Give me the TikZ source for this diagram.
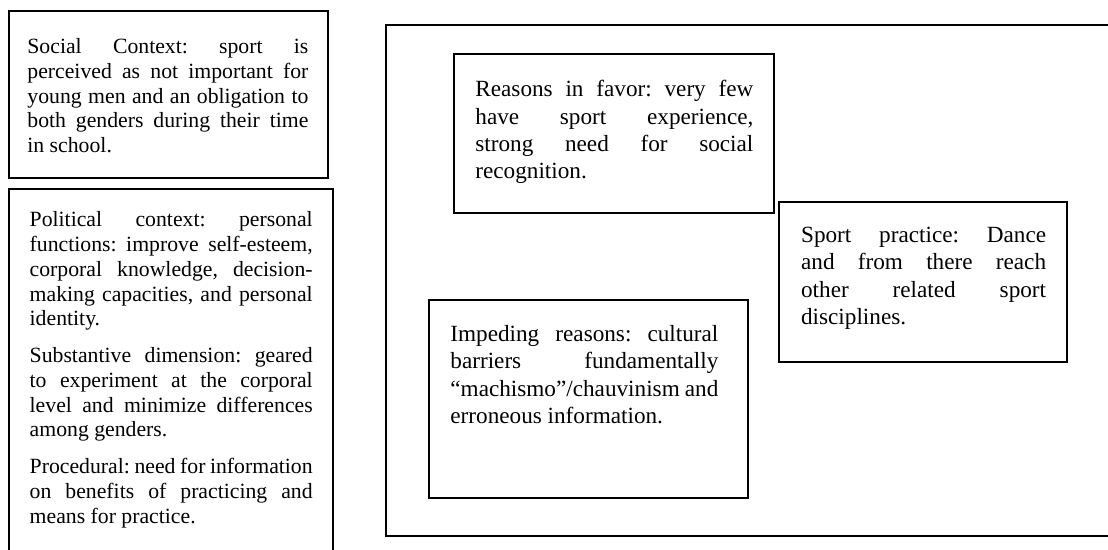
\documentclass[tikz,border=0pt]{standalone}
\usepackage{fontspec}
\setmainfont{Liberation Serif}
\frenchspacing
\newcommand\jl[1]{\makebox[\linewidth][s]{#1}\\}
\tikzset{
  frame/.style={draw=black, line width=0.95pt},
  txt/.style={anchor=base west, inner sep=0pt, align=justify,
    font=\fontsize{10.87}{12.4}\selectfont\frenchspacing},
  bigtxt/.style={txt, font=\fontsize{11.6}{13.6}\selectfont\frenchspacing},
}
\begin{document}
\begin{tikzpicture}[x=0.5pt,y=-0.5pt]
\useasboundingbox (0,0) rectangle (1108,550);
\clip (0,0) rectangle (1108,550);

% outer frame of the right-hand group
\draw[frame] (386,25) rectangle (1130,536);

% left column
\draw[frame] (9,11) rectangle (328,178);
\node[txt, text width=140.5pt] (social) at (27,53.5) {%
\jl{Social Context: sport is}
\jl{perceived as not important for}
\jl{young men and an obligation to}
\jl{both genders during their time}
in school.};

\draw[frame] (9,189) rectangle (333,570);
\node[txt, text width=141.5pt] (political) at (29.3,226.7) {%
\jl{Political context: personal}
\jl{functions: improve self-esteem,}
\jl{corporal knowledge, decision-}
\jl{making capacities, and personal}
identity.\\[5.9pt]
\jl{Substantive dimension: geared}
\jl{to experiment at the corporal}
\jl{level and minimize differences}
among genders.\\[5.9pt]
\jl{Procedural: need for information}
\jl{on benefits of practicing and}
means for practice.};

% inner boxes
\draw[frame] (454,54) rectangle (774,213);
\node[bigtxt, text width=139pt] (favor) at (475,97) {%
\jl{Reasons in favor: very few}
\jl{have sport experience,}
\jl{strong need for social}
recognition.};

\draw[frame] (429,300) rectangle (748,498);
\node[bigtxt, text width=134pt] (impeding) at (450,341.7) {%
\jl{Impeding reasons: cultural}
\jl{barriers fundamentally}
\jl{“machismo”/chauvinism and}
erroneous information.};

\draw[frame] (779,202) rectangle (1067,362);
\node[bigtxt, text width=122.5pt] (practice) at (800.7,242.8) {%
\jl{Sport practice: Dance}
\jl{and from there reach}
\jl{other related sport}
disciplines.};
\end{tikzpicture}
\end{document}
